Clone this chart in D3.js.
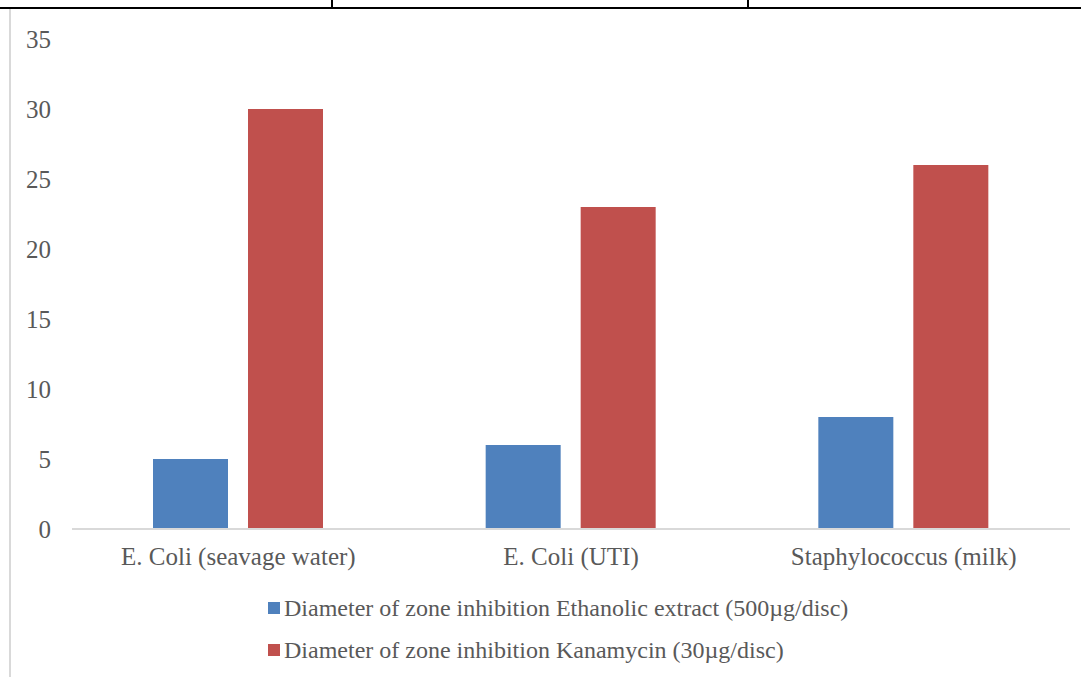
<!DOCTYPE html>
<html>
<head>
<meta charset="utf-8">
<script src="https://cdn.jsdelivr.net/npm/d3@7"></script>
<style>
  body { margin: 0; background: #fff; }
  text { font-family: "Liberation Serif", "Times New Roman", serif; fill: #595959; }
</style>
</head>
<body>
<div id="chart"></div>
<script>
// data
var categories = ["E. Coli (seavage water)", "E. Coli (UTI)", "Staphylococcus (milk)"];
var seriesNames = [
  "Diameter of zone inhibition Ethanolic extract (500µg/disc)",
  "Diameter of zone inhibition Kanamycin (30µg/disc)"
];
var ethanolic = [5, 6, 8];
var kanamycin = [30, 23, 26];
var yTicks = [0, 5, 10, 15, 20, 25, 30, 35];
var colors = ["#4f81bd", "#c0504d"];

var W = 1081, H = 677;
var margin = {top: 39, left: 72, right: 1081 - 1070, bottom: 677 - 529};
var width = W - margin.left - margin.right,
    height = H - margin.top - margin.bottom;

var svg = d3.select("#chart").append("svg")
    .attr("width", W)
    .attr("height", H);

// page decoration: table border above and frame line on the left
svg.append("line").attr("x1", 0).attr("x2", W).attr("y1", 8).attr("y2", 8)
    .attr("stroke", "#000").attr("stroke-width", 2);
[332, 748].forEach(function(x) {
  svg.append("line").attr("x1", x).attr("x2", x).attr("y1", 0).attr("y2", 8)
      .attr("stroke", "#000").attr("stroke-width", 2);
});
svg.append("line").attr("x1", 10).attr("x2", 10).attr("y1", 9).attr("y2", H)
    .attr("stroke", "#d9d9d9").attr("stroke-width", 2);

var g = svg.append("g")
    .attr("transform", "translate(" + margin.left + "," + margin.top + ")");

var x0 = d3.scaleBand().domain(categories).range([0, width]).paddingInner(0).paddingOuter(0);
var x1 = d3.scaleBand().domain([0, 1]).range([81, 81 + 170]).paddingInner(20 / 95);
var y = d3.scaleLinear().domain([0, 35]).range([height, 0]);

// y tick labels (no axis line)
g.selectAll(".ytick").data(yTicks).enter().append("text")
    .attr("x", -21)
    .attr("y", function(d) { return y(d); })
    .attr("dy", "0.35em")
    .attr("text-anchor", "end")
    .style("font-size", "25px")
    .text(function(d) { return d; });

// bars
var rows = categories.map(function(c, i) { return {cat: c, vals: [ethanolic[i], kanamycin[i]]}; });
var grp = g.selectAll(".cat").data(rows).enter().append("g")
    .attr("transform", function(d) { return "translate(" + x0(d.cat) + ",0)"; });
grp.selectAll("rect").data(function(d) { return d.vals; }).enter().append("rect")
    .attr("x", function(d, i) { return x1(i); })
    .attr("width", x1.bandwidth())
    .attr("y", function(d) { return y(d); })
    .attr("height", function(d) { return height - y(d); })
    .attr("fill", function(d, i) { return colors[i]; });

// baseline
g.append("line").attr("x1", 0).attr("x2", width).attr("y1", y(0)).attr("y2", y(0))
    .attr("stroke", "#d9d9d9").attr("stroke-width", 2);

// category labels
var xAxis = g.append("g").attr("transform", "translate(0," + height + ")")
    .call(d3.axisBottom(x0).tickSize(0).tickPadding(18));
xAxis.select(".domain").remove();
xAxis.selectAll("text").style("font-size", "25px")
    .attr("fill", "#595959")
    .style("font-family", "'Liberation Serif', 'Times New Roman', serif");

// legend
var legend = svg.append("g").attr("transform", "translate(268,608)");
seriesNames.forEach(function(name, i) {
  var row = legend.append("g").attr("transform", "translate(0," + (i * 42) + ")");
  row.append("rect").attr("x", 0).attr("y", -6).attr("width", 12).attr("height", 12)
      .attr("fill", colors[i]);
  row.append("text").attr("x", 16).attr("y", 0).attr("dy", "0.35em")
      .style("font-size", "24px").text(name);
});
</script>
</body>
</html>
